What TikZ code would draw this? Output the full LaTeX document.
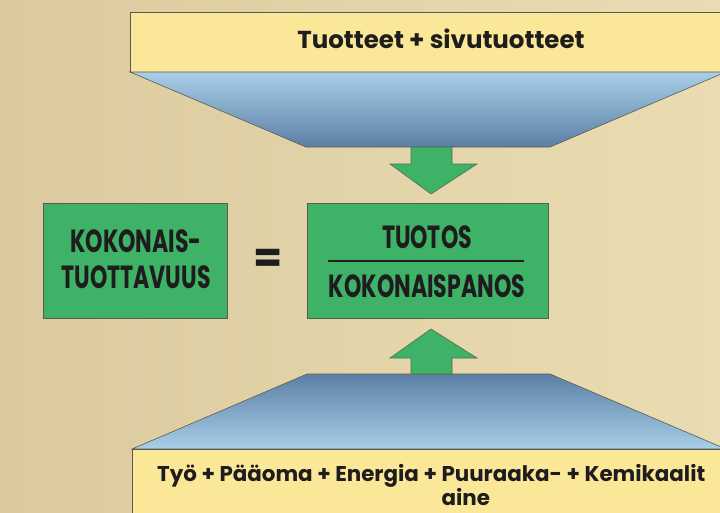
\documentclass[tikz,border=0pt]{standalone}
\usepackage{fontspec}
\usepackage{graphicx}
\setmainfont{Poppins}[BoldFont={Poppins Bold}]
\definecolor{bgL}{RGB}{219,202,158}
\definecolor{bgR}{RGB}{234,220,178}
\definecolor{band}{RGB}{250,231,152}
\definecolor{bluelight}{RGB}{168,206,232}
\definecolor{bluedark}{RGB}{92,128,165}
\definecolor{boxgreen}{RGB}{62,178,102}
\definecolor{edge}{RGB}{90,90,80}
\definecolor{ink}{RGB}{30,28,28}
\newcommand{\cond}[1]{\scalebox{0.69}[1]{#1}}
\tikzset{
  bandbox/.style={fill=band, draw=edge, line width=0.6pt},
  greenbox/.style={fill=boxgreen, draw=edge, line width=0.8pt},
  greenarrow/.style={fill=boxgreen, draw=edge!80!boxgreen, line width=0.6pt},
  bandtext/.style={text=ink, inner sep=0pt},
  bigtext/.style={text=ink, font=\bfseries\fontsize{32}{35}\selectfont, inner sep=0pt, align=center},
}
\begin{document}
\begin{tikzpicture}[x=1pt,y=-1pt]
\useasboundingbox (0,0) rectangle (720,512);
\clip (0,0) rectangle (720,512);
\shade[left color=bgL, right color=bgR] (0,0) rectangle (720,512);
% top band + funnel
\draw[bandbox] (130,12) rectangle (726,72);
\shade[top color=bluelight, bottom color=bluedark, draw=edge, line width=0.6pt]
  (130,72) -- (726,72) -- (550,147) -- (306,147) -- cycle;
\node[bandtext, font=\bfseries\fontsize{24.5}{26}\selectfont, anchor=base] (out) at (441,48) {Tuotteet + sivutuotteet};
% bottom band + funnel
\shade[top color=bluedark, bottom color=bluelight, draw=edge, line width=0.6pt]
  (307,374) -- (550,374) -- (726,449) -- (132,449) -- cycle;
\draw[bandbox] (132,449) rectangle (726,520);
\node[bandtext, font=\bfseries\fontsize{21.4}{17.5}\selectfont, align=left, anchor=north west] (in) at (157,464)
  {Työ + Pääoma + Energia + Puuraaka- + Kemikaalit\\\hphantom{Työ + Pääoma + Energia + }aine};
% arrows
\draw[greenarrow] (411,147) -- (452,147) -- (452,164) -- (477,164) -- (431,194) -- (390,164) -- (411,164) -- cycle;
\draw[greenarrow] (411,374) -- (452,374) -- (452,358) -- (477,358) -- (431,329) -- (390,358) -- (411,358) -- cycle;
% boxes
\node[greenbox, minimum width=184pt, minimum height=115pt, anchor=north west] (left) at (43,203) {};
\node[greenbox, minimum width=241pt, minimum height=115pt, anchor=north west] (right) at (307,203) {};
\node[bigtext, anchor=base] (k1) at (136,252) {\cond{KOKONAIS-}};
\node[bigtext, anchor=base] (k2) at (136,288) {\cond{TUOTTAVUUS}};
\node[text=ink, inner sep=0pt, font=\bfseries\fontsize{42}{44}\selectfont] (eq) at (268,261) {=};
\node[bigtext, anchor=base] (num) at (427,248) {\cond{TUOTOS}};
\draw[ink, line width=2.6pt] (328,261) -- (524,261);
\node[bigtext, anchor=base] (den) at (427,297) {\cond{KOKONAISPANOS}};
\end{tikzpicture}
\end{document}
